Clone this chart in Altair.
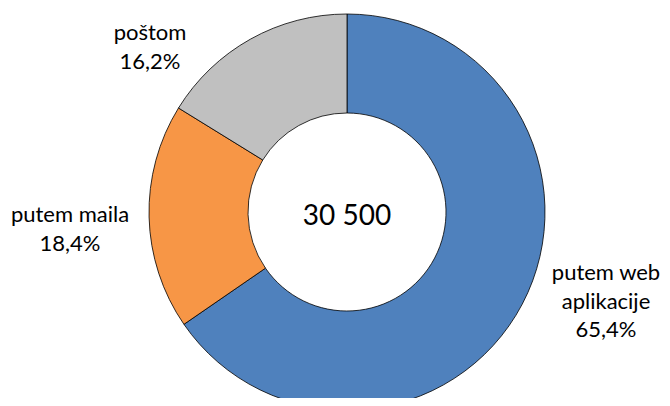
import altair as alt
import pandas as pd

categories = ["putem web aplikacije", "putem maila", "poštom"]
label_lines = [["putem web", "aplikacije"], ["putem maila"], ["poštom"]]
shares = [65.4, 18.4, 16.2]
colors = ["#4F81BD", "#F79646", "#C0C0C0"]
total_label = "30 500"

df = pd.DataFrame({
    "cat": categories,
    "share": shares,
    "order": [0, 1, 2],
    "label": [lines + [f"{s:.1f}".replace(".", ",") + "%"] for lines, s in zip(label_lines, shares)],
})

CX, CY = 339, 204
FONT = "Lato"

arc = alt.Chart(df).mark_arc(
    outerRadius=198, innerRadius=99, stroke="black", strokeWidth=0.8
).encode(
    theta=alt.Theta("share:Q", stack=True, scale=alt.Scale(range=[0, 6.283185307])),
    order=alt.Order("order:Q"),
    color=alt.Color("cat:N", scale=alt.Scale(domain=categories, range=colors), legend=None),
    x=alt.value(CX), y=alt.value(CY),
)

center = alt.Chart(pd.DataFrame({"t": [total_label]})).mark_text(
    font=FONT, fontSize=28, color="black", align="center", baseline="middle"
).encode(text="t:N", x=alt.value(CX), y=alt.value(CY + 5))

label_pos = {
    "putem web aplikacije": (598, 265),
    "putem maila": (62, 207),
    "poštom": (142, 25),
}

layers = [arc, center]
for cat in categories:
    px, py = label_pos[cat]
    layers.append(
        alt.Chart(df).transform_filter(alt.datum.cat == cat).mark_text(
            font=FONT, fontSize=22, color="black", align="center", baseline="middle",
            lineHeight=28.5
        ).encode(text="label", x=alt.value(px), y=alt.value(py))
    )

chart = alt.layer(*layers).properties(
    width=654, height=390, autosize=alt.AutoSizeParams(type="none"), padding=0
).configure_view(stroke=None)

chart.save("out.html", embed_options={"renderer": "svg", "actions": False})
